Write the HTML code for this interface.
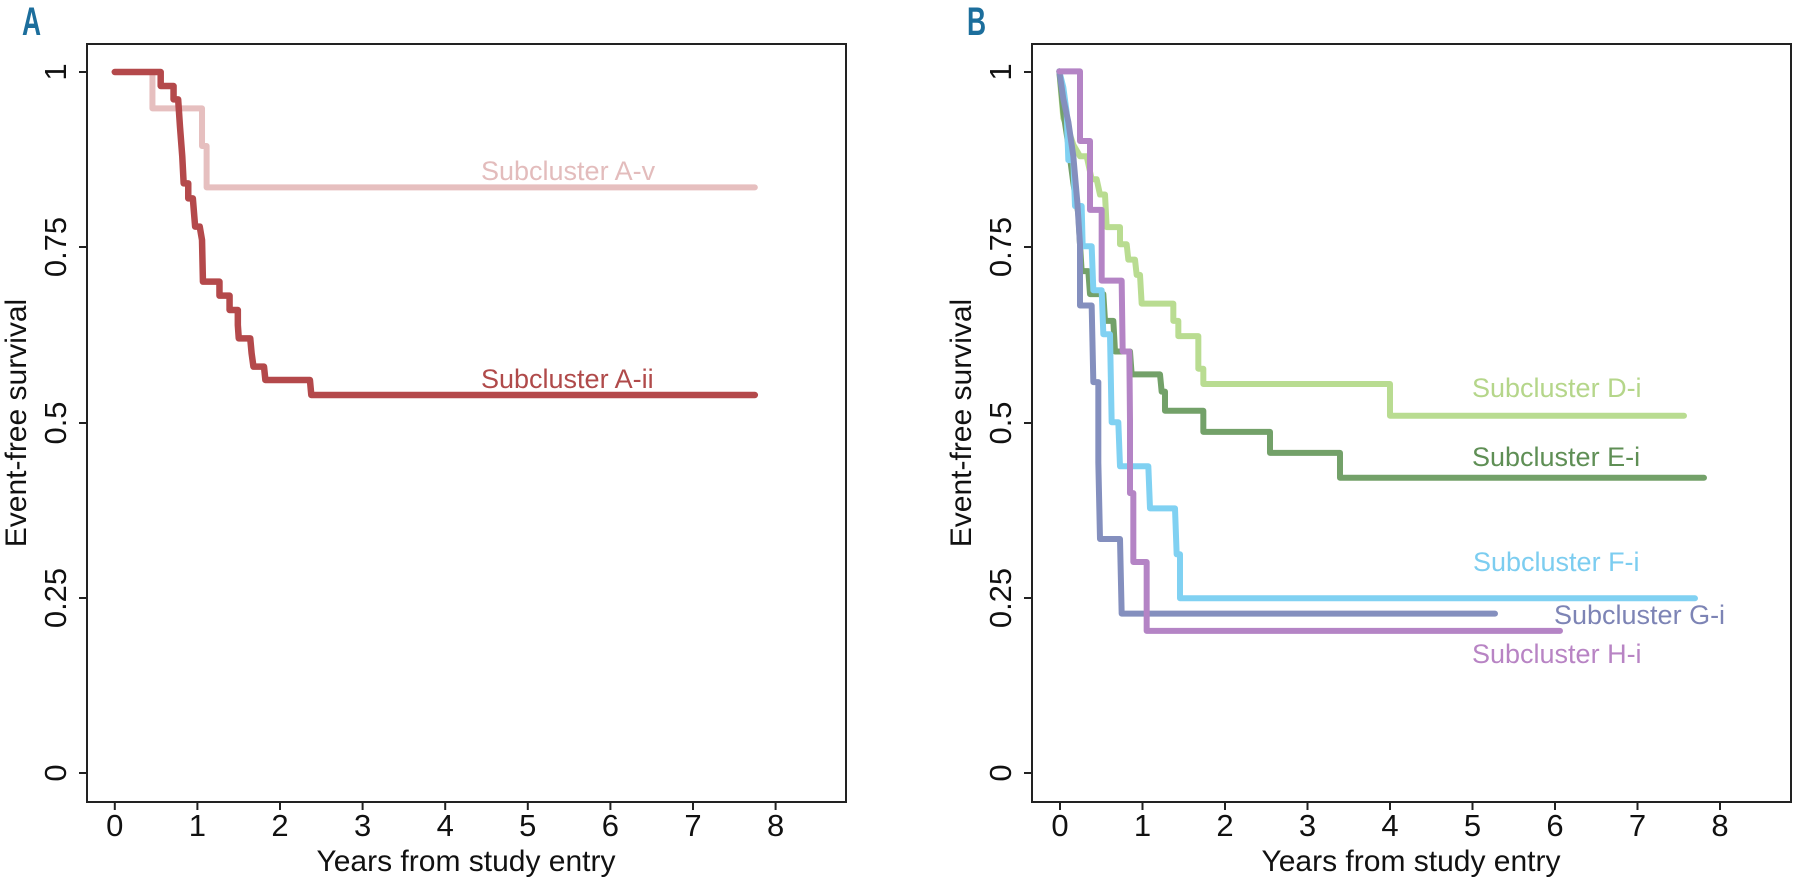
<!DOCTYPE html>
<html><head><meta charset="utf-8"><style>
html,body{margin:0;padding:0;background:#fff;}
svg{display:block;font-family:"Liberation Sans",sans-serif;}
</style></head><body>
<svg width="1800" height="880" viewBox="0 0 1800 880" xmlns="http://www.w3.org/2000/svg">
<!-- Panel letters -->
<text x="22" y="35" font-size="40" font-weight="bold" fill="#1c6e9c" transform="translate(22 0) scale(0.66 1) translate(-22 0)">A</text>
<text x="967" y="35" font-size="40" font-weight="bold" fill="#1c6e9c" transform="translate(967 0) scale(0.66 1) translate(-967 0)">B</text>

<!-- ===== Panel A ===== -->
<g stroke="#222" stroke-width="2" fill="none">
<rect x="87" y="44" width="759" height="758"/>
<line x1="87" y1="72" x2="79" y2="72"/><line x1="87" y1="247" x2="79" y2="247"/><line x1="87" y1="423" x2="79" y2="423"/><line x1="87" y1="598" x2="79" y2="598"/><line x1="87" y1="773" x2="79" y2="773"/>
<line x1="114.8" y1="802" x2="114.8" y2="810"/><line x1="197.4" y1="802" x2="197.4" y2="810"/><line x1="280" y1="802" x2="280" y2="810"/><line x1="362.6" y1="802" x2="362.6" y2="810"/><line x1="445.2" y1="802" x2="445.2" y2="810"/><line x1="527.8" y1="802" x2="527.8" y2="810"/><line x1="610.4" y1="802" x2="610.4" y2="810"/><line x1="693" y1="802" x2="693" y2="810"/><line x1="775.6" y1="802" x2="775.6" y2="810"/>
</g>
<g font-size="31" fill="#111" text-anchor="middle">
<text x="114.8" y="836">0</text><text x="197.4" y="836">1</text><text x="280" y="836">2</text><text x="362.6" y="836">3</text><text x="445.2" y="836">4</text><text x="527.8" y="836">5</text><text x="610.4" y="836">6</text><text x="693" y="836">7</text><text x="775.6" y="836">8</text>
<text transform="translate(66 72) rotate(-90)">1</text>
<text transform="translate(66 247) rotate(-90)">0.75</text>
<text transform="translate(66 423) rotate(-90)">0.5</text>
<text transform="translate(66 598) rotate(-90)">0.25</text>
<text transform="translate(66 773) rotate(-90)">0</text>
</g>
<text x="466" y="871" font-size="30" fill="#111" text-anchor="middle">Years from study entry</text>
<text transform="translate(26 423) rotate(-90)" font-size="30" fill="#111" text-anchor="middle">Event-free survival</text>

<g transform="scale(0.45914 0.33333)" fill="none" stroke-linecap="round" stroke-linejoin="round">
<polyline vector-effect="non-scaling-stroke" stroke="#e6bfbf" stroke-width="6" points="250,216 332,216 332,325 440,325 440,438 450,438 450,562 1644,562"/>
<polyline vector-effect="non-scaling-stroke" stroke="#b4494b" stroke-width="6.5" points="250,216 350,216 350,258 378,258 378,298 388,298 392,380 397,470 400,550 410,550 410,595 420,595 425,680 435,680 440,720 442,845 478,845 478,887 500,887 500,930 518,930 518,975 520,1015 545,1015 548,1060 552,1100 575,1100 578,1140 675,1140 678,1185 1644,1185"/>
</g>
<text x="481" y="180" font-size="27" fill="#e3bcbc">Subcluster A-v</text>
<text x="481" y="388" font-size="27" fill="#b04a4a">Subcluster A-ii</text>

<!-- ===== Panel B ===== -->
<g stroke="#222" stroke-width="2" fill="none">
<rect x="1032" y="44" width="759" height="758"/>
<line x1="1032" y1="72" x2="1024" y2="72"/><line x1="1032" y1="247" x2="1024" y2="247"/><line x1="1032" y1="423" x2="1024" y2="423"/><line x1="1032" y1="598" x2="1024" y2="598"/><line x1="1032" y1="773" x2="1024" y2="773"/>
<line x1="1060" y1="802" x2="1060" y2="810"/><line x1="1142.5" y1="802" x2="1142.5" y2="810"/><line x1="1225" y1="802" x2="1225" y2="810"/><line x1="1307.5" y1="802" x2="1307.5" y2="810"/><line x1="1390" y1="802" x2="1390" y2="810"/><line x1="1472.5" y1="802" x2="1472.5" y2="810"/><line x1="1555" y1="802" x2="1555" y2="810"/><line x1="1637.5" y1="802" x2="1637.5" y2="810"/><line x1="1720" y1="802" x2="1720" y2="810"/>
</g>
<g font-size="31" fill="#111" text-anchor="middle">
<text x="1060" y="836">0</text><text x="1142.5" y="836">1</text><text x="1225" y="836">2</text><text x="1307.5" y="836">3</text><text x="1390" y="836">4</text><text x="1472.5" y="836">5</text><text x="1555" y="836">6</text><text x="1637.5" y="836">7</text><text x="1720" y="836">8</text>
<text transform="translate(1011 72) rotate(-90)">1</text>
<text transform="translate(1011 247) rotate(-90)">0.75</text>
<text transform="translate(1011 423) rotate(-90)">0.5</text>
<text transform="translate(1011 598) rotate(-90)">0.25</text>
<text transform="translate(1011 773) rotate(-90)">0</text>
</g>
<text x="1411" y="871" font-size="30" fill="#111" text-anchor="middle">Years from study entry</text>
<text transform="translate(971 423) rotate(-90)" font-size="30" fill="#111" text-anchor="middle">Event-free survival</text>

<g transform="translate(900 30) scale(0.33333 0.3827)" fill="none" stroke-linecap="round" stroke-linejoin="round" stroke-width="6" opacity="0.85">
<polyline vector-effect="non-scaling-stroke" stroke="#add77e" points="478,108 484,170 490,230 505,260 520,300 540,330 560,330 575,390 590,390 600,430 615,430 620,515 660,515 660,560 680,560 685,600 705,600 710,640 720,640 725,715 820,715 820,760 835,760 835,800 895,800 895,885 910,885 910,925 1470,925 1470,1008 2352,1008"/>
<polyline vector-effect="non-scaling-stroke" stroke="#5b9150" points="478,108 484,160 490,215 505,300 520,400 535,480 540,560 545,630 565,630 570,690 610,690 615,760 640,760 645,840 690,840 695,900 780,900 785,945 795,945 795,995 910,995 910,1050 1110,1050 1110,1105 1320,1105 1320,1170 2412,1170"/>
<polyline vector-effect="non-scaling-stroke" stroke="#6bcaf0" points="478,108 490,150 500,215 505,340 520,340 525,460 545,460 548,565 575,565 580,680 605,680 610,795 630,795 635,1025 655,1025 660,1140 745,1140 750,1250 825,1250 830,1370 840,1370 840,1485 2385,1485"/>
<polyline vector-effect="non-scaling-stroke" stroke="#6f7cb3" points="478,108 490,180 505,240 520,330 532,450 540,560 540,720 575,720 580,920 595,920 595,1130 600,1330 660,1330 665,1525 1785,1525"/>
<polyline vector-effect="non-scaling-stroke" stroke="#a86fbb" points="478,108 540,108 540,290 570,290 570,470 605,470 605,655 665,655 668,840 688,840 690,1020 690,1210 700,1210 700,1390 740,1390 740,1570 1980,1570"/>
</g>
<text x="1472" y="397" font-size="27" fill="#b5d68a">Subcluster D-i</text>
<text x="1472" y="466" font-size="27" fill="#5f8f55">Subcluster E-i</text>
<text x="1473" y="571" font-size="27" fill="#7ccdf0">Subcluster F-i</text>
<text x="1554" y="624" font-size="27" fill="#7d84b5">Subcluster G-i</text>
<text x="1472" y="663" font-size="27" fill="#b884c4">Subcluster H-i</text>
</svg>
</body></html>
